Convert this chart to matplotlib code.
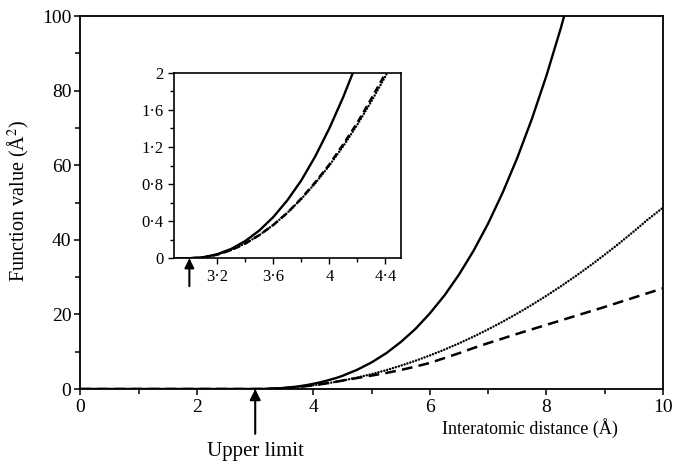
import matplotlib
matplotlib.use("Agg")
import matplotlib.pyplot as plt
from matplotlib.ticker import MultipleLocator, FixedLocator

plt.rcParams["font.family"] = ["Liberation Serif", "DejaVu Serif"]
plt.rcParams["mathtext.fontset"] = "stix"

# interatomic distance (Å) and function values (Å²)
r = [0.0, 3.0, 3.1, 3.2, 3.3, 3.4, 3.5, 3.6, 3.7, 3.8, 3.9, 4.0, 4.1, 4.2, 4.3,
     4.4, 4.5, 4.75, 5.0, 5.25, 5.5, 5.75, 6.0, 6.25, 6.5, 6.75, 7.0, 7.25,
     7.5, 7.75, 8.0, 8.25, 8.5, 8.75, 9.0, 9.25, 9.5, 9.75, 10.0]
solid = [0.0, 0.0, 0.011, 0.044, 0.102, 0.187, 0.30, 0.445, 0.625, 0.84, 1.10,
         1.40, 1.74, 2.12, 2.55, 3.0, 3.55, 5.15, 7.15, 9.6, 12.6, 16.1, 20.3,
         25.1, 30.7, 37.1, 44.4, 52.7, 62.0, 72.4, 84.0, 96.9, 111.1, 126.0,
         142.0, 160.0, 180.0, 200.0, 222.0]
dotted = [0.0, 0.0, 0.01, 0.04, 0.09, 0.16, 0.25, 0.36, 0.49, 0.64, 0.81, 1.0,
          1.21, 1.44, 1.69, 1.96, 2.25, 3.06, 4.0, 5.06, 6.25, 7.56, 9.0,
          10.56, 12.25, 14.06, 16.0, 18.06, 20.25, 22.56, 25.0, 27.56, 30.25,
          33.06, 36.0, 39.06, 42.25, 45.56, 48.6]
dashed = [0.0, 0.0, 0.01, 0.04, 0.09, 0.16, 0.25, 0.36, 0.49, 0.645, 0.82,
          1.01, 1.23, 1.46, 1.72, 1.99, 2.27, 2.95, 3.6, 4.3, 5.1, 6.0, 7.0,
          8.3, 9.6, 11.0, 12.3, 13.55, 14.8, 16.0, 17.2, 18.4, 19.6, 20.8,
          22.0, 23.25, 24.5, 25.75, 27.0]

upper_limit = 3.0

main_ticks_x = [0, 2, 4, 6, 8, 10]
main_ticks_y = [0, 20, 40, 60, 80, 100]
inset_ticks_x = [3.2, 3.6, 4.0, 4.4]
inset_labels_x = ["3·2", "3·6", "4", "4·4"]
inset_ticks_y = [0, 0.4, 0.8, 1.2, 1.6, 2.0]
inset_labels_y = ["0", "0·4", "0·8", "1·2", "1·6", "2"]

fig = plt.figure(figsize=(6.73, 4.62), dpi=100)
ax = fig.add_axes([0.1196, 0.158, 0.8654, 0.8073])


def style_lines(a, dash):
    a.plot(r, solid, color="k", lw=1.7, solid_capstyle="butt")
    a.plot(r, dotted, color="k", lw=1.8, linestyle=(0, (0.01, 1.2)),
           dash_capstyle="round")
    a.plot(r, dashed, color="k", lw=1.8, linestyle=(0, dash))


style_lines(ax, (4.3, 2.5))
ax.set_xlim(0, 10)
ax.set_ylim(0, 100)
ax.set_xticks(main_ticks_x)
ax.set_yticks(main_ticks_y)
ax.xaxis.set_minor_locator(MultipleLocator(1))
ax.yaxis.set_minor_locator(MultipleLocator(10))
ax.tick_params(which="both", direction="out", top=False, right=False,
               width=1.1, labelsize=14)
ax.tick_params(axis="y", pad=2)
ax.tick_params(axis="x", pad=2.5)
ax.tick_params(which="major", length=4.5)
ax.tick_params(which="minor", length=3.5)
for s in ax.spines.values():
    s.set_linewidth(1.3)

ax.text(-0.106, 0.505, "Function value (Å$^2$)", transform=ax.transAxes,
        rotation=90, ha="center", va="center", fontsize=14.5)
ax.text(0.772, -0.104, "Interatomic distance (Å)", transform=ax.transAxes,
        ha="center", va="center", fontsize=13)

ax.annotate("", xy=(upper_limit, 0), xytext=(upper_limit, -12),
            annotation_clip=False,
            arrowprops=dict(arrowstyle="-|>", color="k", lw=1.5,
                            mutation_scale=16, shrinkA=0, shrinkB=0))
ax.text(upper_limit, -16.8, "Upper limit", ha="center", va="center",
        fontsize=15, clip_on=False)

ins = fig.add_axes([0.2585, 0.4409, 0.3369, 0.4017])
style_lines(ins, (2.8, 1.7))
ins.set_xlim(2.89, 4.51)
ins.set_ylim(0, 2)
ins.xaxis.set_major_locator(FixedLocator(inset_ticks_x))
ins.set_xticklabels(inset_labels_x)
ins.yaxis.set_major_locator(FixedLocator(inset_ticks_y))
ins.set_yticklabels(inset_labels_y)
ins.xaxis.set_minor_locator(MultipleLocator(0.2))
ins.yaxis.set_minor_locator(MultipleLocator(0.2))
ins.tick_params(which="both", direction="out", top=False, right=False,
                width=1.0, labelsize=12)
ins.tick_params(which="major", length=4)
ins.tick_params(which="minor", length=3)
for s in ins.spines.values():
    s.set_linewidth(1.2)

ins.annotate("", xy=(upper_limit, 0), xytext=(upper_limit, -0.3),
             annotation_clip=False,
             arrowprops=dict(arrowstyle="-|>", color="k", lw=1.5,
                             mutation_scale=14, shrinkA=0, shrinkB=0))

fig.savefig("out.png", dpi=100)
